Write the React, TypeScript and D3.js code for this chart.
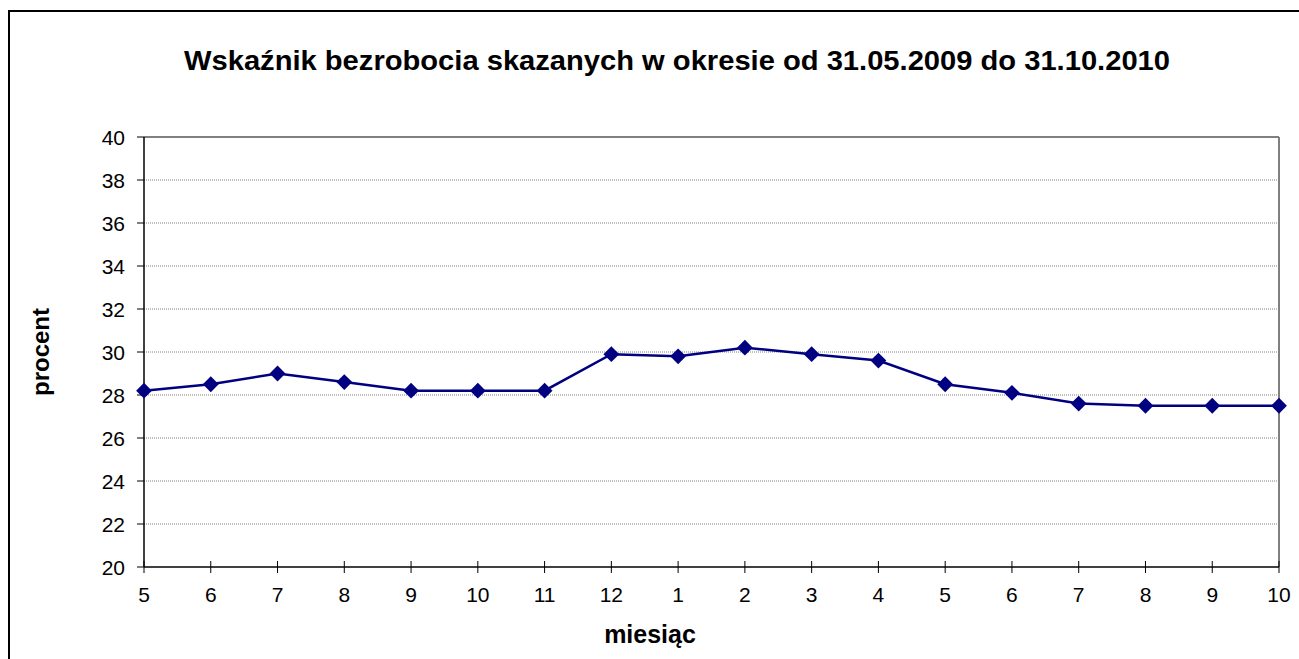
import React from 'react';
import * as d3 from 'd3';

const months = ['5', '6', '7', '8', '9', '10', '11', '12', '1', '2', '3', '4', '5', '6', '7', '8', '9', '10'];
const values = [28.2, 28.5, 29.0, 28.6, 28.2, 28.2, 28.2, 29.9, 29.8, 30.2, 29.9, 29.6, 28.5, 28.1, 27.6, 27.5, 27.5, 27.5];
const yTicks = [20, 22, 24, 26, 28, 30, 32, 34, 36, 38, 40];

const W = 1299;
const H = 659;
const LEFT = 144;
const RIGHT = 1279;
const TOP = 137;
const BOTTOM = 567;
const FONT = 'Arial, "Liberation Sans", sans-serif';

export default function App() {
    const x = d3.scaleLinear().domain([0, months.length - 1]).range([LEFT, RIGHT]);
    const y = d3.scaleLinear().domain([20, 40]).range([BOTTOM, TOP]);

    const line = d3.line<number>()
        .x((d, i) => x(i))
        .y(d => y(d));

    // square turned 45deg gives the Excel-style diamond
    const diamond = d3.symbol().type(d3.symbolSquare).size(125)();

    return (
        <svg width={W} height={H} style={{ position: 'absolute', left: 0, top: 0, background: '#fff' }}>
            {/* chart frame */}
            <rect x={9} y={11} width={W + 20} height={H + 20} fill="#fff" stroke="#000" strokeWidth={2} />

            <text x={677} y={70} textAnchor="middle" fontFamily={FONT} fontWeight="bold" fontSize={27}
                textLength={986} lengthAdjust="spacingAndGlyphs">
                Wskaźnik bezrobocia skazanych w okresie od 31.05.2009 do 31.10.2010
            </text>

            {/* gridlines */}
            {yTicks.filter(t => t !== 20 && t !== 40).map(t => (
                <line key={t} x1={LEFT} x2={RIGHT} y1={y(t)} y2={y(t)} stroke="#808080" strokeWidth={1} strokeDasharray="1,1" />
            ))}
            <line x1={LEFT} x2={RIGHT} y1={TOP} y2={TOP} stroke="#808080" strokeWidth={2} />
            <line x1={RIGHT} x2={RIGHT} y1={TOP} y2={BOTTOM} stroke="#808080" strokeWidth={2} />

            {/* y axis */}
            <line x1={LEFT} x2={LEFT} y1={TOP} y2={BOTTOM} stroke="#000" strokeWidth={1.5} />
            {yTicks.map(t => (
                <g key={t}>
                    <line x1={LEFT - 7} x2={LEFT} y1={y(t)} y2={y(t)} stroke="#000" strokeWidth={1} />
                    <text x={LEFT - 19} y={y(t)} dy="0.36em" textAnchor="end" fontFamily={FONT} fontSize={21}>{t}</text>
                </g>
            ))}

            {/* x axis */}
            <line x1={LEFT} x2={RIGHT} y1={BOTTOM} y2={BOTTOM} stroke="#000" strokeWidth={1.5} />
            {months.map((m, i) => (
                <g key={i}>
                    <line x1={x(i)} x2={x(i)} y1={BOTTOM - 6} y2={BOTTOM + 6} stroke="#000" strokeWidth={1} />
                    <text x={x(i)} y={BOTTOM + 35} textAnchor="middle" fontFamily={FONT} fontSize={21}>{m}</text>
                </g>
            ))}

            {/* series */}
            <path d={line(values) || ''} fill="none" stroke="#000080" strokeWidth={2.5} />
            {values.map((v, i) => (
                <path key={i} d={diamond || ''} transform={`translate(${x(i)},${y(v)}) rotate(45)`} fill="#000080" />
            ))}

            <text x={650} y={643} textAnchor="middle" fontFamily={FONT} fontWeight="bold" fontSize={25}>miesiąc</text>
            <text transform="translate(49,352) rotate(-90)" textAnchor="middle" fontFamily={FONT} fontWeight="bold" fontSize={24}>procent</text>
        </svg>
    );
}
